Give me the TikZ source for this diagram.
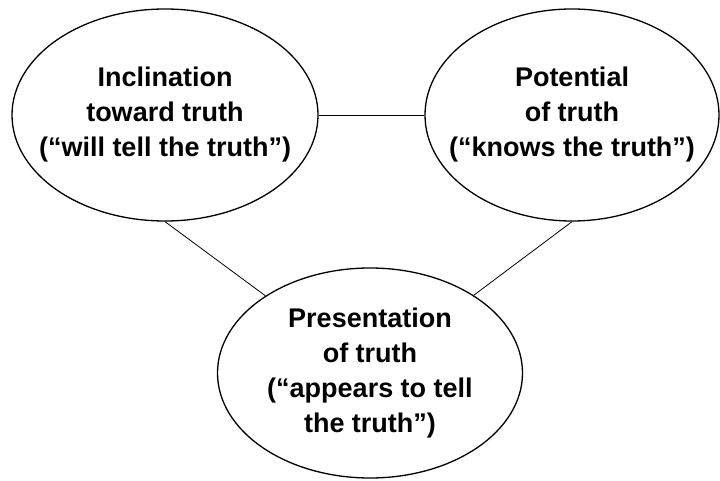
\documentclass[tikz,border=0pt]{standalone}
\usepackage{fontspec}
\setmainfont{Liberation Sans}
\usetikzlibrary{shapes.geometric}

\begin{document}
\begin{tikzpicture}[x=1pt, y=1pt,
  every node/.style={font=\fontsize{27}{35}\selectfont\bfseries},
  aspect/.style={ellipse, draw, line width=1.3pt, inner sep=-40pt, align=center}]
\useasboundingbox (0,0) rectangle (720,480);
\node[aspect, minimum width=306, minimum height=212] (incl) at (165,365) {Inclination\\toward truth\\(“will tell the truth”)};
\node[aspect, minimum width=294, minimum height=212] (pot) at (572,365) {Potential\\of truth\\(“knows the truth”)};
\node[aspect, minimum width=305, minimum height=210] (pres) at (370,107) {Presentation\\of truth\\(“appears to tell\\the truth”)};
\draw[line width=0.8pt] (incl) -- (pot);
\draw[line width=0.8pt] (incl.south) -- (pres);
\draw[line width=0.8pt] (pot.south) -- (pres);
\end{tikzpicture}
\end{document}
